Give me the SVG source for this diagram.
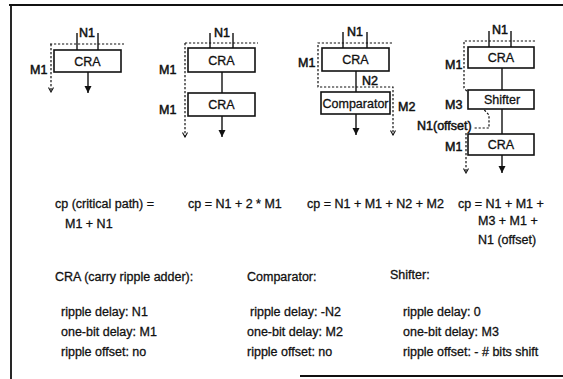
<svg xmlns="http://www.w3.org/2000/svg" width="563" height="379" viewBox="0 0 563 379">
<style>
text{font-family:"Liberation Sans",Arial,sans-serif;font-size:12.5px;fill:#111;stroke:#111;stroke-width:0.3}
.lbl{font-size:12.5px;stroke-width:0.5}
.box{fill:#fff;stroke:#111;stroke-width:1.6}
.ln{stroke:#111;stroke-width:1.4;fill:none}
.dash{stroke:#111;stroke-width:1.2;fill:none;stroke-dasharray:2.2 1.8}
.frame{stroke:#111;stroke-width:1.8;fill:none}
.c{text-anchor:middle}
</style>
<defs>
<marker id="ah" markerWidth="8" markerHeight="8" refX="7" refY="4" orient="auto" markerUnits="userSpaceOnUse" viewBox="0 0 8 8">
<path d="M0,0.5 L7,4 L0,7.5 Z" fill="#111"/>
</marker>
<marker id="dh" markerWidth="6" markerHeight="6" refX="5" refY="3" orient="auto" markerUnits="userSpaceOnUse" viewBox="0 0 6 6">
<path d="M0.5,0.5 L5,3 L0.5,5.5" fill="none" stroke="#111" stroke-width="1.1"/>
</marker>
</defs>
<rect width="563" height="379" fill="#fff"/>
<g id="frame">
<path class="frame" d="M9,5 H563 M11,5 V379 M300,376 H563"/>
</g>
<g id="connectors">
<!-- column 1 -->
<path class="ln" d="M77,33 V50 M98,33 V50"/>
<path class="dash" d="M50,44 H124 M51,44 V92" marker-end="url(#dh)"/>
<path class="ln" d="M88,72 V93" marker-end="url(#ah)"/>
<!-- column 2 -->
<path class="ln" d="M210,33 V48 M233,33 V48"/>
<path class="dash" d="M185,43 H258 M185,43 V137" marker-end="url(#dh)"/>
<path class="ln" d="M222,72 V93"/>
<path class="ln" d="M222,116 V137" marker-end="url(#ah)"/>
<!-- column 3 -->
<path class="ln" d="M343,32 V48 M367,32 V48"/>
<path class="dash" d="M392,43 H318 V87 H393 V135" marker-end="url(#dh)"/>
<path class="ln" d="M356,71 V92"/>
<path class="ln" d="M356,114 V135" marker-end="url(#ah)"/>
<!-- column 4 -->
<path class="ln" d="M489,31 V47 M511,31 V47"/>
<path class="dash" d="M535,41 H464 V88 L489,115 V128 H474"/>
<path class="dash" d="M466,133 V173" marker-end="url(#dh)"/>
<path class="ln" d="M502,68 V90 M502,109 V134"/>
<path class="ln" d="M502,155 V173" marker-end="url(#ah)"/>
</g>
<g id="n1-cra">
<rect class="box" x="54" y="50" width="67" height="22"/>
<text class="c" x="87.5" y="65.5">CRA</text>
<text class="lbl c" x="87" y="37">N1</text>
<text class="lbl" x="30" y="74">M1</text>
</g>
<g id="n2-cra-a">
<rect class="box" x="188" y="48" width="67" height="24"/>
<text class="c" x="221.5" y="64.5">CRA</text>
<text class="lbl c" x="222" y="37">N1</text>
<text class="lbl" x="159" y="74">M1</text>
</g>
<g id="n2-cra-b">
<rect class="box" x="188" y="93" width="67" height="23"/>
<text class="c" x="221.5" y="109">CRA</text>
<text class="lbl" x="159" y="114">M1</text>
</g>
<g id="n3-cra">
<rect class="box" x="322" y="48" width="67" height="23"/>
<text class="c" x="355.5" y="64">CRA</text>
<text class="lbl c" x="355" y="36">N1</text>
<text class="lbl" x="298" y="67">M1</text>
<text class="lbl" x="362" y="85">N2</text>
</g>
<g id="n3-comparator">
<rect class="box" x="321" y="92" width="69" height="22"/>
<text class="c" x="355.5" y="107.5" textLength="66" lengthAdjust="spacingAndGlyphs">Comparator</text>
<text class="lbl" x="398" y="111">M2</text>
</g>
<g id="n4-cra-a">
<rect class="box" x="468" y="47" width="66" height="21"/>
<text class="c" x="501" y="62">CRA</text>
<text class="lbl c" x="500" y="34">N1</text>
<text class="lbl" x="445" y="69">M1</text>
</g>
<g id="n4-shifter">
<rect class="box" x="468" y="90" width="66" height="19"/>
<text class="c" x="502" y="104">Shifter</text>
<text class="lbl" x="445" y="109">M3</text>
<text class="lbl" x="417" y="130">N1(offset)</text>
</g>
<g id="n4-cra-b">
<rect class="box" x="468" y="134" width="66" height="21"/>
<text class="c" x="501" y="149">CRA</text>
<text class="lbl" x="445" y="151">M1</text>
</g>
<g id="formulas">
<text x="55" y="208">cp (critical path) =</text>
<text x="65" y="228">M1 + N1</text>
<text x="188" y="208">cp = N1 + 2 * M1</text>
<text x="307" y="208">cp = N1 + M1 + N2 + M2</text>
<text x="458" y="208">cp = N1 + M1 +</text>
<text x="478" y="225">M3 + M1 +</text>
<text x="478" y="244">N1 (offset)</text>
</g>
<g id="legend">
<text x="55" y="281">CRA (carry ripple adder):</text>
<text x="61" y="316">ripple delay: N1</text>
<text x="61" y="336">one-bit delay: M1</text>
<text x="61" y="356">ripple offset: no</text>
<text x="247" y="281">Comparator:</text>
<text x="250" y="316">ripple delay: -N2</text>
<text x="247" y="336">one-bit delay: M2</text>
<text x="247" y="356">ripple offset: no</text>
<text x="390" y="279">Shifter:</text>
<text x="403" y="316">ripple delay: 0</text>
<text x="403" y="336">one-bit delay: M3</text>
<text x="403" y="356">ripple offset: - # bits shift</text>
</g>
</svg>
